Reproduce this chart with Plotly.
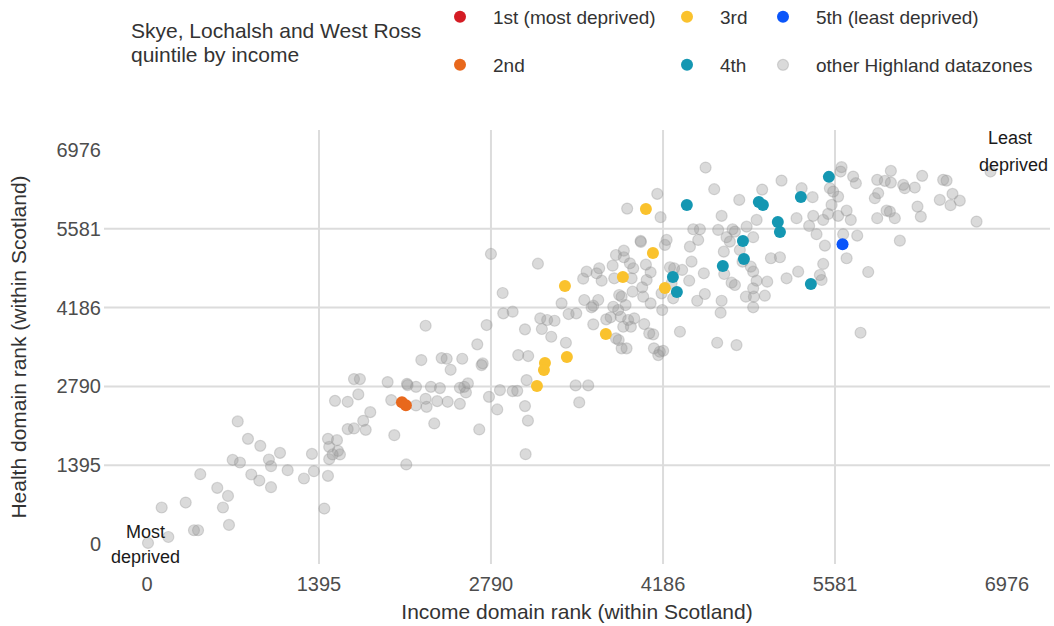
import plotly.graph_objects as go

# ---------------- data (income rank, health rank) ----------------
gray_x = [736, 819, 919, 1079, 695, 754, 989, 1006, 1141, 846, 911, 1006, 1338, 1354, 1273, 1468, 1438,
          432, 570, 657, 616, 314, 119, 381, 414, 665, 173, 8, 1468, 1541, 1478, 1549, 1565, 1506, 1478,
          1525, 1628, 1628, 2260, 2755, 2890, 2966, 3066, 2679, 2225, 2390, 2431, 2557, 2463, 2723, 2714,
          3011, 3092, 1679, 1727, 1952, 2109, 2114, 2182, 2303, 2376, 2538, 2573, 2603, 2587, 2863, 2966,
          3003, 2774, 3079, 1714, 1981, 2182, 2260, 2268, 2354, 2439, 2538, 2841, 3066, 1811, 1754, 1679,
          1774, 2006, 2330, 2695, 2103, 3071, 3090, 2790, 3171, 2885, 3190, 3246, 3306, 3203, 3279, 3398,
          3477, 3579, 3506, 3363, 3420, 3482, 3547, 3566, 3647, 3668, 3538, 3688, 3620, 3606, 3660, 3620,
          3725, 3761, 3782, 3822, 3882, 3777, 3804, 3868, 3868, 3917, 3944, 3790, 3931, 3830, 3850, 3842,
          3903, 3952, 4033, 3863, 3925, 3804, 3826, 3850, 3890, 3939, 4006, 4047, 4085, 4017, 4053, 4074,
          4106, 4112, 4160, 4187, 4179, 4215, 4201, 4323, 4174, 4268, 4531, 4601, 4139, 3895, 4166, 4804,
          4990, 5147, 4661, 4945, 5269, 4431, 4485, 4633, 4750, 4769, 4864, 4917, 4004, 4404, 4471, 4701,
          4728, 4679, 4809, 4831, 5061, 5134, 4417, 4276, 4341, 4517, 4682, 4898, 4917, 5188, 5282, 4398,
          4742, 4769, 4945, 5031, 4917, 4858, 4923, 5012, 4525, 4463, 4661, 4653, 4917, 4625, 4782, 4147,
          4242, 4255, 4025, 4085, 5634, 5626, 5728, 5750, 6034, 5923, 5985, 6034, 6134, 6147, 6228, 6288,
          6458, 6486, 6534, 6431, 6518, 6593, 5931, 5904, 6250, 6277, 5999, 6026, 6066, 5923, 6729, 6107,
          5850, 5788, 5310, 5399, 5539, 5566, 5606, 5553, 5675, 5709, 5606, 5525, 5404, 5485, 5371, 5431,
          5647, 5761, 5499, 5675, 5485, 5458, 5472, 6842]
gray_y = [2172, 1864, 1740, 1616, 1492, 1446, 1499, 1381, 1310, 1234, 1127, 1009, 1598, 1292, 1163, 1209, 632,
          1239, 997, 855, 650, 738, 650, 248, 248, 342, 129, 23, 1864, 1841, 1722, 1651, 1588, 1588, 1505,
          2536, 2519, 2036, 3864, 3876, 4083, 4112, 3800, 3535, 3257, 3292, 3280, 3280, 3085, 3198, 3168,
          3345, 3328, 2921, 2921, 2867, 2837, 2814, 2784, 2784, 2761, 2767, 2784, 2844, 2685, 2726, 2708,
          2713, 2607, 2903, 2650, 2549, 2455, 2572, 2430, 2531, 2519, 2483, 2384, 2443, 2336, 2182, 2048,
          2023, 1929, 2136, 2030, 1411, 1593, 2186, 5133, 4961, 4443, 3995, 3965, 3952, 3806, 3669, 3563,
          2809, 2809, 2508, 4260, 4071, 4083, 4319, 4820, 4791, 4880, 4696, 4660, 4218, 4190, 4319, 3889,
          3977, 4013, 4200, 4142, 4230, 4926, 5115, 5191, 5075, 4968, 4880, 4703, 4703, 4407, 4377, 4023,
          3965, 3995, 3894, 3846, 3846, 3641, 3611, 3464, 3464, 4466, 5345, 4944, 4809, 4544, 4673, 3729,
          3712, 3464, 3404, 3421, 4142, 5381, 5292, 3758, 4437, 4349, 6661, 6278, 6195, 5935, 5783, 6089,
          6271, 6430, 5806, 5735, 5765, 5570, 5570, 5558, 5570, 5528, 5616, 5429, 5363, 5262, 5381, 5429,
          5351, 5174, 5204, 4997, 5057, 5075, 4997, 4880, 4850, 4791, 4779, 4908, 4820, 4703, 4820, 4660,
          4625, 4584, 4660, 4643, 4526, 4377, 4377, 4395, 4425, 4306, 4306, 4094, 4190, 3563, 3522, 3345,
          4898, 4614, 4377, 4260, 6668, 6590, 6501, 6384, 6602, 6443, 6425, 6395, 6354, 6296, 6307, 6514,
          6443, 6430, 6195, 6089, 5995, 6076, 6207, 6119, 5970, 5793, 5899, 5882, 5765, 5765, 5705, 5368,
          4814, 3740, 6296, 6137, 6296, 6236, 6147, 6000, 5899, 5735, 5806, 5841, 5806, 5735, 5629, 5482,
          5482, 5457, 5280, 5057, 4956, 4761, 4673, 6590]

q1_x = [None]   # no datazones in the most deprived quintile
q1_y = [None]
q2_x = [2068, 2100]
q2_y = [2513, 2460]
q3_x = [4047, 4104, 3860, 3390, 4201, 3722, 3406, 3228, 3220, 3163]
q3_y = [5930, 5151, 4726, 4567, 4531, 3717, 3310, 3204, 3080, 2797]
q4_x = [4379, 4963, 4996, 5117, 5134, 4834, 4842, 4671, 4266, 4298, 5304, 5531, 5385]
q4_y = [6000, 6053, 6000, 5699, 5522, 5363, 5045, 4921, 4726, 4460, 6142, 6496, 4602]
q5_x = [5642]
q5_y = [5305]

tick_vals = [0, 1395, 2790, 4186, 5581, 6976]
tick_text = ["0", "1395", "2790", "4186", "5581", "6976"]

legend_names = ["1st (most deprived)", "2nd", "3rd", "4th", "5th (least deprived)", "other Highland datazones"]
colors = ["#D41C24", "#E8681C", "#FAC22D", "#1497B2", "#0A55FA"]

FONT = "Liberation Sans, Arial, sans-serif"

fig = go.Figure()

gray_fill = "rgba(150,150,150,0.35)"
fig.add_trace(go.Scatter(
    x=gray_x, y=gray_y, mode="markers", name=legend_names[5],
    marker=dict(size=11, color=gray_fill, line=dict(color=gray_fill, width=1.2)),
    legend="legend6", hoverinfo="x+y"))

series = [(q1_x, q1_y), (q2_x, q2_y), (q3_x, q3_y), (q4_x, q4_y), (q5_x, q5_y)]
legend_ids = ["legend", "legend4", "legend2", "legend5", "legend3"]
for i, (xs, ys) in enumerate(series):
    fig.add_trace(go.Scatter(
        x=xs, y=ys, mode="markers", name=legend_names[i],
        marker=dict(size=12, color=colors[i], line=dict(width=0)),
        legend=legend_ids[i], showlegend=True))

# gridlines only at interior ticks
for v in tick_vals[1:-1]:
    fig.add_vline(x=v, line=dict(color="#dcdcdc", width=2), layer="below")
    fig.add_hline(y=v, line=dict(color="#dcdcdc", width=2), layer="below")

rng = [-348.8, 7324.8]
L, R, T, B = 104, 4, 130, 62
W, H = 1054, 626
pw, ph = W - L - R, H - T - B


def px_to_paper_x(px):
    return (px - L) / pw


def px_to_paper_y(py):
    return (H - B - py) / ph


def leg(cx, cy):
    return dict(x=px_to_paper_x(cx), y=px_to_paper_y(cy), xref="paper", yref="paper",
                xanchor="left", yanchor="middle", orientation="v",
                font=dict(size=19, color="#333333", family=FONT),
                bgcolor="rgba(0,0,0,0)", borderwidth=0, itemwidth=56,
                itemclick=False, itemdoubleclick=False)


col_x = [427, 654, 750]
row_y = [17, 65]

fig.update_layout(
    width=W, height=H,
    margin=dict(l=L, r=R, t=T, b=B, autoexpand=False),
    plot_bgcolor="white", paper_bgcolor="white",
    font=dict(family=FONT),
    showlegend=True,
    legend=leg(col_x[0], row_y[0]),
    legend4=leg(col_x[0], row_y[1]),
    legend2=leg(col_x[1], row_y[0]),
    legend5=leg(col_x[1], row_y[1]),
    legend3=leg(col_x[2], row_y[0]),
    legend6=leg(col_x[2], row_y[1]),
    xaxis=dict(range=rng, tickmode="array", tickvals=tick_vals, ticktext=tick_text,
               showgrid=False, zeroline=False, showline=False, ticks="",
               ticklabelstandoff=6,
               tickfont=dict(size=20, color="#4d4d4d", family=FONT),
               title=dict(text="Income domain rank (within Scotland)",
                          font=dict(size=21, color="#333333", family=FONT), standoff=10),
               automargin=False),
    yaxis=dict(range=rng, tickmode="array", tickvals=tick_vals, ticktext=tick_text,
               showgrid=False, zeroline=False, showline=False, ticks="",
               ticklabelstandoff=2,
               tickfont=dict(size=20, color="#4d4d4d", family=FONT),
               title=dict(text="Health domain rank (within Scotland)",
                          font=dict(size=21, color="#333333", family=FONT), standoff=24),
               automargin=False),
)

ann_font = dict(size=18, color="#1a1a1a", family=FONT)
fig.add_annotation(x=-16, y=212, text="Most", showarrow=False, font=ann_font, xanchor="center", yanchor="middle")
fig.add_annotation(x=-16, y=-230, text="deprived", showarrow=False, font=ann_font, xanchor="center", yanchor="middle")
fig.add_annotation(x=6999, y=7186, text="Least", showarrow=False, font=ann_font, xanchor="center", yanchor="middle")
fig.add_annotation(x=7031, y=6708, text="deprived", showarrow=False, font=ann_font, xanchor="center", yanchor="middle")

title_font = dict(size=21, color="#333333", family=FONT)
fig.add_annotation(x=px_to_paper_x(129), y=px_to_paper_y(30), xref="paper", yref="paper",
                   text="Skye, Lochalsh and West Ross", showarrow=False, font=title_font,
                   xanchor="left", yanchor="middle")
fig.add_annotation(x=px_to_paper_x(129), y=px_to_paper_y(54), xref="paper", yref="paper",
                   text="quintile by income", showarrow=False, font=title_font,
                   xanchor="left", yanchor="middle")

fig.write_html("out.html", config={"displayModeBar": False},
               post_script="document.body.style.margin='0px';")
